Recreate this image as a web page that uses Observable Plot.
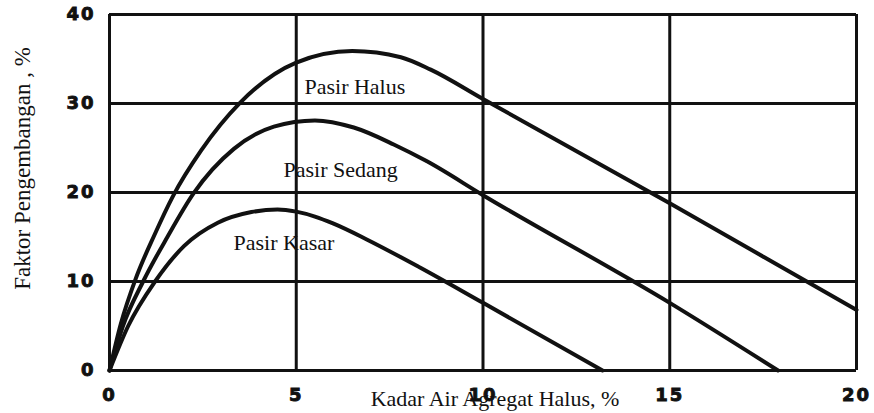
<!DOCTYPE html>
<html>
<head>
<meta charset="utf-8">
<script src="https://cdn.jsdelivr.net/npm/d3@7"></script>
<script src="https://cdn.jsdelivr.net/npm/@observablehq/plot@0.6"></script>
<style>
  body { margin: 0; background: #fff; }
  g[aria-label="x-axis tick label"] text,
  g[aria-label="y-axis tick label"] text { letter-spacing: 2px; stroke: #111; stroke-width: 0.9px; }
</style>
</head>
<body>
<div id="chart"></div>
<script>
// Tick values
const xTicks = [0, 5, 10, 15, 20];
const yTicks = [0, 10, 20, 30, 40];

// Series: Pasir Halus
const halusX = [0, 0.3, 0.7, 1.2, 1.7, 2.45, 3.5, 5, 6.5, 7.8, 8.6, 10, 15, 20];
const halusY = [0, 5.2, 10.3, 15.2, 19.6, 24.7, 30.1, 34.6, 35.9, 35.2, 33.8, 30.5, 18.8, 6.8];

// Series: Pasir Sedang
const sedangX = [0, 0.36, 0.9, 1.55, 2.25, 3.33, 4.4, 5.5, 6.54, 7.61, 8.5, 10, 15, 17.9];
const sedangY = [0, 5, 10, 15, 19.9, 24.9, 27.4, 28.1, 27.3, 25.4, 23.5, 19.7, 7.6, 0];

// Series: Pasir Kasar
const kasarX = [0, 0.5, 1.22, 2, 2.9, 3.8, 4.5, 5, 5.5, 6, 6.9, 8.3, 10, 13.2];
const kasarY = [0, 5, 10, 14, 16.6, 17.8, 18.1, 17.85, 17.3, 16.5, 14.7, 11.6, 7.6, 0];

// Curve labels
const labelNames = ["Pasir Halus", "Pasir Sedang", "Pasir Kasar"];
const labelX = [5.22, 4.66, 3.32];
const labelY = [31.1, 21.7, 13.5];

const seriesList = [
  {name: "Pasir Halus", xs: halusX, ys: halusY},
  {name: "Pasir Sedang", xs: sedangX, ys: sedangY},
  {name: "Pasir Kasar", xs: kasarX, ys: kasarY}
];
const rows = seriesList.flatMap(s => s.xs.map((x, i) => ({name: s.name, x, y: s.ys[i]})));
const labels = labelNames.map((t, i) => ({text: t, x: labelX[i], y: labelY[i]}));

const serif = "'Liberation Serif', 'Times New Roman', serif";
const tickFont = "'DejaVu Sans', sans-serif";
const ink = "#111";

const chart = Plot.plot({
  width: 874,
  height: 413,
  marginLeft: 109,
  marginRight: 18,
  marginTop: 14,
  marginBottom: 43,
  x: {domain: [0, 20]},
  y: {domain: [0, 40]},
  style: {background: "#fff", color: ink},
  marks: [
    Plot.ruleX(xTicks, {stroke: ink, strokeWidth: 3, strokeOpacity: 1}),
    Plot.ruleY(yTicks, {stroke: ink, strokeWidth: 3, strokeOpacity: 1}),
    Plot.line(rows, {x: "x", y: "y", z: "name", stroke: ink, strokeWidth: 4, curve: "monotone-x"}),
    Plot.text(labels, {x: "x", y: "y", text: "text", textAnchor: "start", lineAnchor: "bottom",
      fontFamily: serif, fontSize: 22, fill: ink}),
    Plot.axisX({ticks: xTicks, tickSize: 0, tickPadding: 18, label: null,
      fontFamily: tickFont, fontWeight: "bold", fontSize: 18, fill: ink}),
    Plot.axisY({ticks: yTicks, tickSize: 0, tickPadding: 14, label: null,
      fontFamily: tickFont, fontWeight: "bold", fontSize: 18, fill: ink}),
    Plot.text(["Kadar Air Agregat Halus, %"], {frameAnchor: "bottom", dy: 35, dx: 12,
      lineAnchor: "bottom", fontFamily: serif, fontSize: 22, fill: ink}),
    Plot.text(["Faktor Pengembangan , %"], {frameAnchor: "left", textAnchor: "middle", rotate: -90,
      dx: -87, dy: -24, fontFamily: serif, fontSize: 23, fill: ink})
  ]
});
document.getElementById("chart").append(chart);
</script>
</body>
</html>
